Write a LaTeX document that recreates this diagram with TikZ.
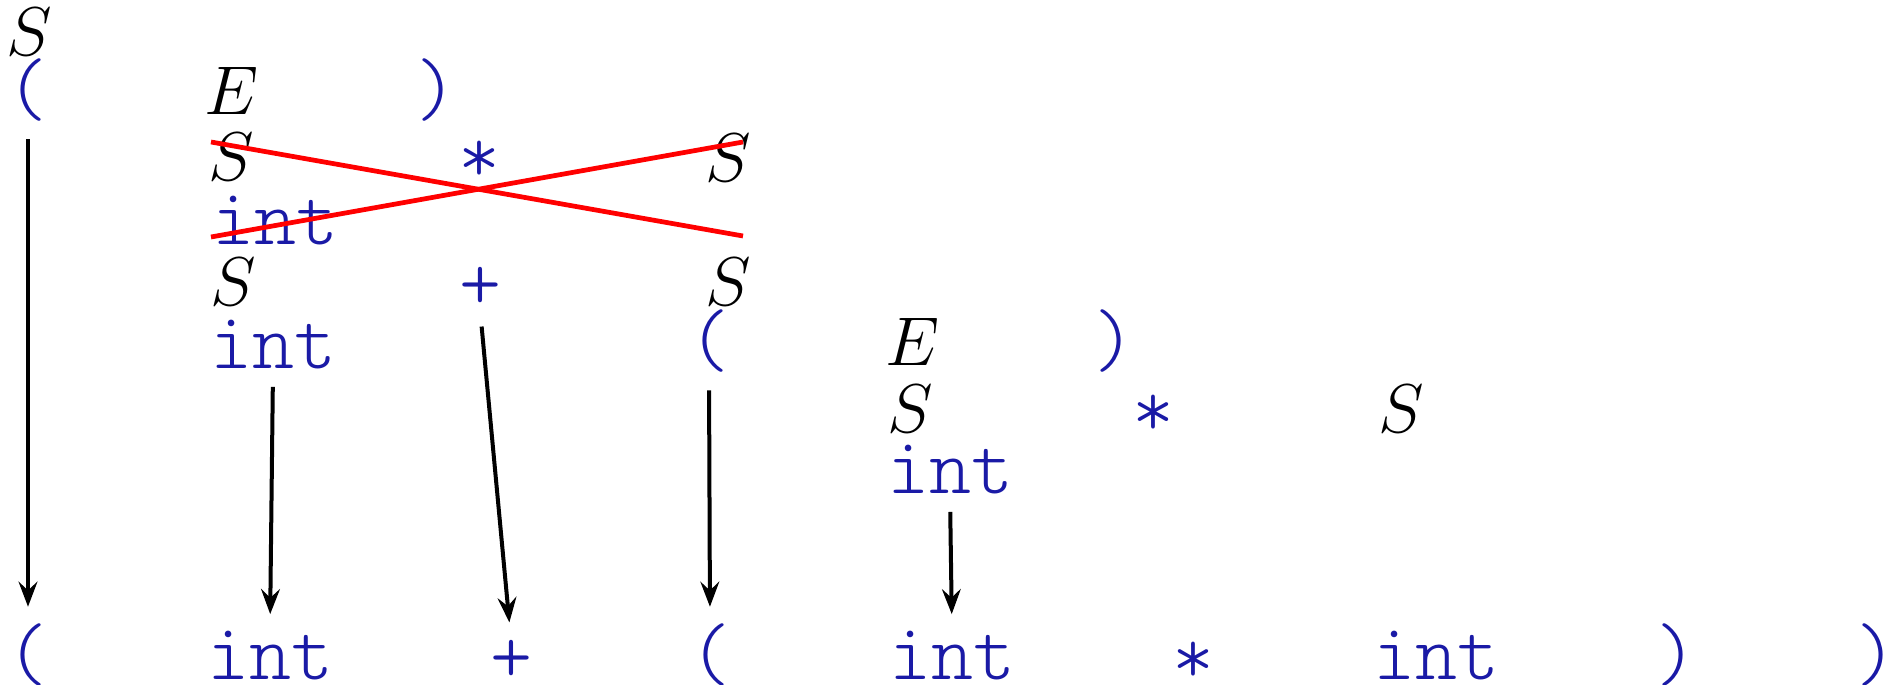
\RequirePackage{fix-cm}
\documentclass[tikz,border=0pt]{standalone}
\usepackage{fontspec}
\newfontfamily\codefont{Latin Modern Mono Light}
\usetikzlibrary{arrows.meta}
\definecolor{tokblue}{RGB}{26,26,166}
\begin{document}
\begin{tikzpicture}[x=0.4pt,y=-0.4pt,
  every node/.style={inner sep=0pt,outer sep=0pt},
  nt/.style={anchor=base,font=\fontsize{27.6}{32}\selectfont},
  tok/.style={anchor=base,text=tokblue,font=\fontsize{32}{38}\selectfont\codefont},
  op/.style={tok,anchor=center},
  derive/.style={line width=1.6pt,-{Stealth[length=10pt,width=7.5pt,inset=3.5pt]},
                 shorten <=7pt,shorten >=7pt},
  strike/.style={red,line width=1.9pt}]
\useasboundingbox (0,0) rectangle (1896,685);

% S -> ( E )
\node[nt]  (s1)  at (29,56)   {$S$};
\node[tok] (lp1) at (28,115)  {(};
\node[nt]  (e1)  at (232,115) {$E$};
\node[tok] (rp1) at (436,115) {)};

% rejected expansion E -> S * S, S -> int
\node[nt]  (s2a) at (231,181) {$S$};
\node[op]  (m2)  at (479,162) {*};
\node[nt]  (s2b) at (728,182) {$S$};
\node[tok] (i2)  at (275,245) {int};

% E -> S + S
\node[nt]  (s3a) at (233,306) {$S$};
\node[op]  (p3)  at (480,288) {+};
\node[nt]  (s3b) at (728,306) {$S$};

% S -> int, S -> ( E )
\node[tok] (i4)  at (273,369)  {int};
\node[tok] (lp4) at (709,366)  {(};
\node[nt]  (e4)  at (913,366)  {$E$};
\node[tok] (rp4) at (1114,366) {)};

% E -> S * S
\node[nt]  (s5a) at (910,433)  {$S$};
\node[op]  (m5)  at (1153,416) {*};
\node[nt]  (s5b) at (1401,433) {$S$};

% S -> int
\node[tok] (i6)  at (950,494) {int};

% input string
\node[tok] (b1) at (28,680)   {(};
\node[tok] (b2) at (270,680)  {int};
\node[op]  (b3) at (511,661)  {+};
\node[tok] (b4) at (710,680)  {(};
\node[tok] (b5) at (952,680)  {int};
\node[op]  (b6) at (1193,663) {*};
\node[tok] (b7) at (1436,680) {int};
\node[tok] (b8) at (1676,680) {)};
\node[tok] (b9) at (1876,680) {)};

% matches against the input
\draw[derive] (lp1.south) -- (b1.north);
\draw[derive] (i4.south)  -- (b2.north);
\draw[derive] (p3.south)  -- (b3.north);
\draw[derive] (lp4.south) -- (b4.north);
\draw[derive] (i6.south)  -- (b5.north);

% crossed-out alternative
\coordinate (xa) at (211,142);
\coordinate (xb) at (743,236);
\coordinate (xc) at (211,237);
\coordinate (xd) at (743,142);
\draw[strike] (xa) -- (xb);
\draw[strike] (xc) -- (xd);
\end{tikzpicture}
\end{document}
